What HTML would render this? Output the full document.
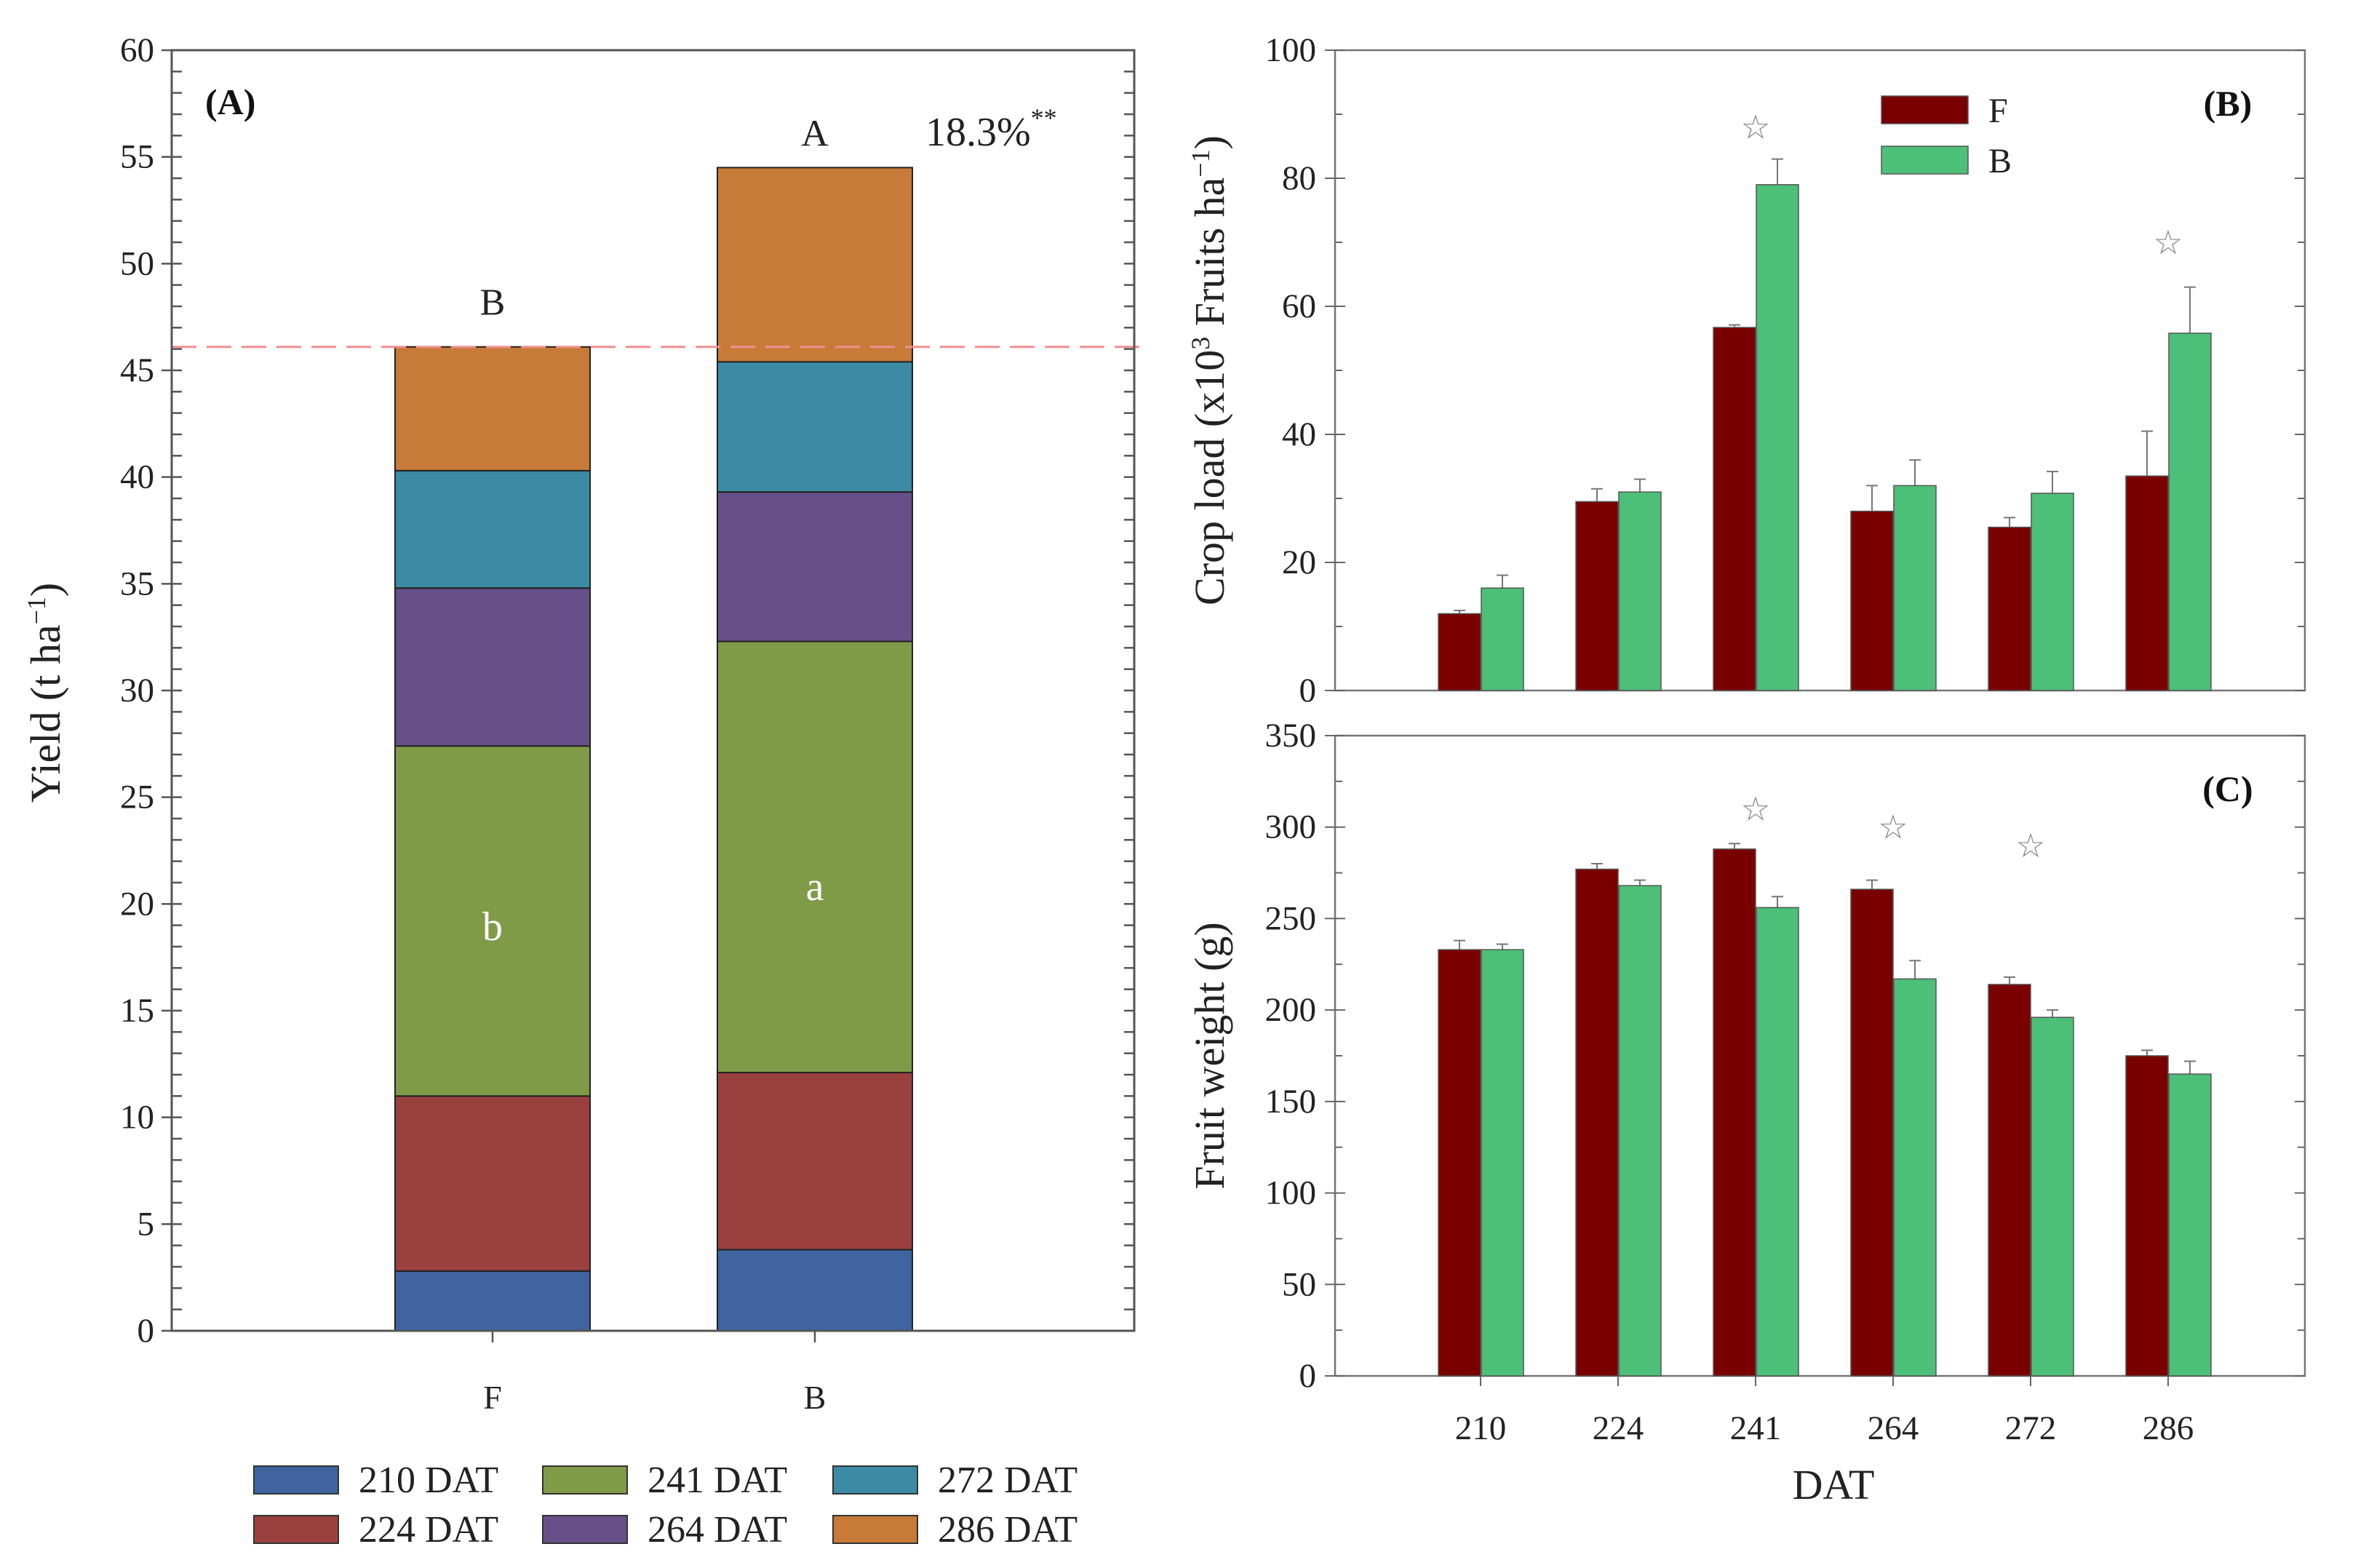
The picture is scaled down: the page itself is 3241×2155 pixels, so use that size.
<!DOCTYPE html>
<html><head><meta charset="utf-8"><style>
html,body{margin:0;padding:0;background:#fff;}
svg{display:block;font-family:"Liberation Serif",serif;}
</style></head><body>
<svg id="c" width="3241" height="2155" viewBox="0 0 3241 2155" xmlns="http://www.w3.org/2000/svg"></svg>
<script>
// Panel A data
const stackCats = ["F","B"];
const stackSeries = ["210 DAT","224 DAT","241 DAT","264 DAT","272 DAT","286 DAT"];
const stackF = [2.8, 8.2, 16.4, 7.4, 5.5, 5.8];
const stackB = [3.8, 8.3, 20.2, 7.0, 6.1, 9.1];
const yTicksA = [0,5,10,15,20,25,30,35,40,45,50,55,60];
// Panel B/C data
const dats = ["210","224","241","264","272","286"];
const cropF = [12, 29.5, 56.7, 28, 25.5, 33.5];
const cropFErr = [0.5, 2, 0.4, 4, 1.5, 7];
const cropB = [16, 31, 79, 32, 30.8, 55.8];
const cropBErr = [2, 2, 4, 4, 3.4, 7.2];
const cropStarAt = [null, null, 88, null, null, 70];
const yTicksB = [0,20,40,60,80,100];
const wtF = [233, 277, 288, 266, 214, 175];
const wtFErr = [5, 3, 3, 5, 4, 3];
const wtB = [233, 268, 256, 217, 196, 165];
const wtBErr = [3, 3, 6, 10, 4, 7];
const wtStarAt = [null, null, 310, 300, 290, null];
const yTicksC = [0,50,100,150,200,250,300,350];

const NS="http://www.w3.org/2000/svg";
const svg=document.getElementById('c');
function mk(tag,attrs,parent,text){const e=document.createElementNS(NS,tag);for(const k in attrs)e.setAttribute(k,attrs[k]);if(text!==undefined)e.textContent=text;(parent||svg).appendChild(e);return e;}
const colorsA=["#3f64a0","#9a4140","#7f9b48","#67508a","#3c8ba5","#c87a38"];

// ---------- Panel A ----------
const A={l:236,r:1559,t:69,b:1829,max:60};
const yA=v=>A.b-(v/A.max)*(A.b-A.t);
const gA=mk('g',{});


const barCenters=[677,1120], barW=268;
[stackF,stackB].forEach((vals,ci)=>{
  let cum=0;
  vals.forEach((v,si)=>{
    const r=mk('rect',{x:barCenters[ci]-barW/2,y:yA(cum+v),width:barW,height:yA(cum)-yA(cum+v),fill:colorsA[si],stroke:"#222",'stroke-width':2},gA);
    
    
    cum+=v;
  });
});
const totF=stackF.reduce((a,b)=>a+b,0), totB=stackB.reduce((a,b)=>a+b,0);
const dl=mk('line',{x1:A.l,x2:A.r+20,y1:yA(totF),y2:yA(totF),stroke:"#f09090",'stroke-width':3,'stroke-dasharray':"34 14"},gA);


mk('rect',{x:A.l,y:A.t,width:A.r-A.l,height:A.b-A.t,fill:"none",stroke:"#555",'stroke-width':3},gA);
for(let v=0;v<=60;v++){
  const y=yA(v),maj=v%5===0;
  mk('line',{x1:maj?A.l-14:A.l,x2:A.l+14,y1:y,y2:y,stroke:"#555",'stroke-width':2.5},gA);
  mk('line',{x1:A.r-14,x2:A.r,y1:y,y2:y,stroke:"#555",'stroke-width':2.5},gA);
}
yTicksA.forEach(v=>{const t=mk('text',{x:A.l-24,y:yA(v)+15,'text-anchor':'end','font-size':47,fill:"#222"},gA,String(v));});
stackCats.forEach((c,i)=>{
  mk('line',{x1:barCenters[i],x2:barCenters[i],y1:A.b,y2:A.b+16,stroke:"#555",'stroke-width':2.5},gA);
  const t=mk('text',{x:barCenters[i],y:1936,'text-anchor':'middle','font-size':46,fill:"#222"},gA,c);
  
});
let t;
t=mk('text',{transform:"translate(82,952) rotate(-90)",'text-anchor':'middle','font-size':58,fill:"#222"},gA);

t.innerHTML='Yield (t ha<tspan dy="-20" font-size="36">−1</tspan><tspan dy="20">)</tspan>';
t=mk('text',{x:282,y:157,'font-size':50,'font-weight':'bold',fill:"#111"},gA,"(A)");

t=mk('text',{x:barCenters[0],y:yA(totF)-44,'text-anchor':'middle','font-size':52,fill:"#222"},gA,"B");

t=mk('text',{x:barCenters[1],y:yA(totB)-30,'text-anchor':'middle','font-size':52,fill:"#222"},gA,"A");

t=mk('text',{x:1272,y:200,'font-size':56,fill:"#222"},gA);
t.innerHTML='18.3%<tspan dy="-26" font-size="36">**</tspan>';

t=mk('text',{x:barCenters[0],y:1292,'text-anchor':'middle','font-size':56,fill:"#fff"},gA,"b");

t=mk('text',{x:barCenters[1],y:1237,'text-anchor':'middle','font-size':56,fill:"#fff"},gA,"a");

// legend A
const lgX=[349,746,1145], lgY=[2015,2083];
stackSeries.forEach((s,i)=>{
  const col=Math.floor(i/2), row=i%2;
  const g=mk('g',{},gA);
  
  
  mk('rect',{x:lgX[col],y:lgY[row],width:116,height:38,fill:colorsA[i],stroke:"#333",'stroke-width':2},g);
  mk('text',{x:lgX[col]+144,y:lgY[row]+36,'font-size':52,fill:"#222"},g,s);
});

// ---------- Panels B & C ----------
const X={l:1835,r:3168,c0:2035,step:189,bw:58};
const xC=i=>X.c0+i*X.step;
function panel(name,top,bot,max,ticks,minorStep,fv,fe,bv,be,stars,label,title){
  const g=mk('g',{});
  
  
  const y=v=>bot-(v/max)*(bot-top);
  mk('rect',{x:X.l,y:top,width:X.r-X.l,height:bot-top,fill:"none",stroke:"#777",'stroke-width':2.5},g);
  for(let v=0;v<=max+1e-9;v+=minorStep){
    const maj=ticks.includes(v);
    mk('line',{x1:maj?X.l-14:X.l,x2:X.l+(maj?14:10),y1:y(v),y2:y(v),stroke:"#666",'stroke-width':2},g);
    mk('line',{x1:X.r-(maj?14:10),x2:X.r,y1:y(v),y2:y(v),stroke:"#666",'stroke-width':2},g);
  }
  ticks.forEach(v=>{const tt=mk('text',{x:X.l-26,y:y(v)+15,'text-anchor':'end','font-size':47,fill:"#222"},g,String(v));});
  dats.forEach((d,i)=>{
    const c=xC(i);
    [[fv,fe,c-X.bw,"#7a0000","F"],[bv,be,c+1,"#4cbf78","B"]].forEach(([vals,errs,x0,col,s])=>{
      const ex=x0+X.bw/2;
      mk('line',{x1:ex,x2:ex,y1:y(vals[i]),y2:y(vals[i]+errs[i]),stroke:"#777",'stroke-width':2},g);
      mk('line',{x1:ex-8,x2:ex+8,y1:y(vals[i]+errs[i]),y2:y(vals[i]+errs[i]),stroke:"#777",'stroke-width':2},g);
      const r=mk('rect',{x:x0,y:y(vals[i]),width:X.bw,height:bot-y(vals[i]),fill:col,stroke:"#555",'stroke-width':1.5},g);
      
      
    });
    if(stars[i]!==null){
      const st=mk('text',{x:c,y:y(stars[i])+16,'text-anchor':'middle','font-size':46,fill:"#888",'font-family':'"DejaVu Sans",sans-serif'},g,"☆");
      
      
    }
  });
  const lt=mk('text',{x:3062,y:top+90,'text-anchor':'middle','font-size':50,'font-weight':'bold',fill:"#111"},g,label);
  
  const yt=mk('text',{transform:`translate(1682,${(top+bot)/2}) rotate(-90)`,'text-anchor':'middle','font-size':58,fill:"#222"},g);
  yt.innerHTML=title;
  
  return g;
}
panel('panel-b',69,949,100,yTicksB,10,cropF,cropFErr,cropB,cropBErr,cropStarAt,"(B)",'Crop load (x10<tspan dy="-20" font-size="36">3</tspan><tspan dy="20"> Fruits ha</tspan><tspan dy="-20" font-size="36">−1</tspan><tspan dy="20">)</tspan>');
const gC=panel('panel-c',1011,1891,350,yTicksC,25,wtF,wtFErr,wtB,wtBErr,wtStarAt,"(C)",'Fruit weight (g)');
dats.forEach((d,i)=>{
  mk('line',{x1:xC(i),x2:xC(i),y1:1891,y2:1905,stroke:"#666",'stroke-width':2},gC);
  const tt=mk('text',{x:xC(i),y:1978,'text-anchor':'middle','font-size':47,fill:"#222"},gC,d);
  
});
t=mk('text',{x:2520,y:2060,'text-anchor':'middle','font-size':58,fill:"#222"},gC,"DAT");

// legend B
[["F","#7a0000",132],["B","#4cbf78",201]].forEach(([s,c,yy])=>{
  const g=mk('g',{});
  
  
  mk('rect',{x:2586,y:yy,width:119,height:38,fill:c,stroke:"#555",'stroke-width':1.5},g);
  mk('text',{x:2733,y:yy+36,'font-size':48,fill:"#222"},g,s);
});
</script>
</body></html>
